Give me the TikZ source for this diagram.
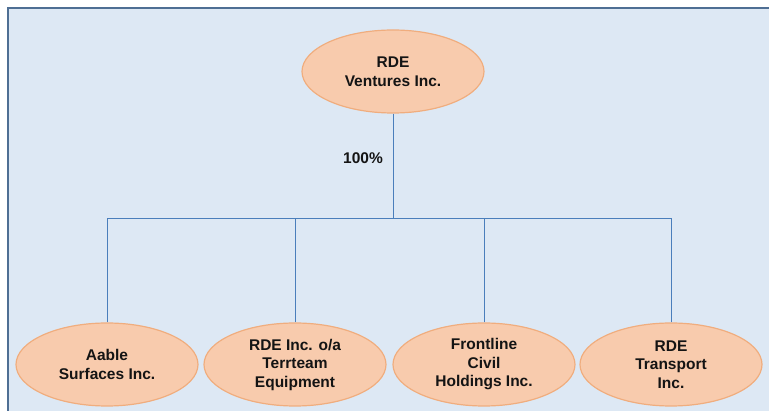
\documentclass[tikz,border=0pt]{standalone}
\usepackage{fontspec}
\setmainfont{Liberation Sans}
\usetikzlibrary{shapes.geometric}
\definecolor{bgblue}{HTML}{DDE8F4}
\definecolor{framecol}{HTML}{4F6F94}
\definecolor{peach}{HTML}{F8CBAD}
\definecolor{peachline}{HTML}{F0AD7E}
\definecolor{linkcol}{HTML}{4A7EBB}
\definecolor{txt}{HTML}{141414}
\tikzset{
  company/.style={ellipse, draw=peachline, fill=peach, line width=1.2pt,
    minimum width=182pt, minimum height=83pt, inner sep=0pt, align=center,
    text=txt, font=\fontsize{15.5}{18.5}\selectfont\bfseries},
  link/.style={draw=linkcol, line width=0.9pt},
  pct/.style={text=txt, font=\fontsize{15.5}{18.5}\selectfont\bfseries, inner sep=0pt}
}
\begin{document}
\begin{tikzpicture}[x=1pt,y=-1pt]
\useasboundingbox (0,0) rectangle (769,411);
\fill[white] (0,0) rectangle (769,411);
\fill[bgblue] (8,8) rectangle (769,411);
\draw[framecol, line width=2.4pt] (8,411) -- (8,8) -- (769,8);
\node[company] (top) at (393,71.5) {RDE\\Ventures Inc.};
\node[company] (c1) at (107,364.5) {Aable\\Surfaces Inc.};
\node[company] (c2) at (295,364.5) {RDE Inc. o/a\\Terrteam\\Equipment};
\node[company] (c3) at (484,364.5) {Frontline\\Civil\\Holdings Inc.};
\node[company] (c4) at (671,364.5) {RDE\\Transport\\Inc.};
\coordinate (j) at (393,218);
\node[pct] (p) at (363,158.5) {100\%};
\draw[link] (top.south) -- (j);
\draw[link] (c1.north) |- (j);
\draw[link] (c4.north) |- (j);
\draw[link] (c2.north) -- (c2.north |- j);
\draw[link] (c3.north) -- (c3.north |- j);
\end{tikzpicture}
\end{document}
